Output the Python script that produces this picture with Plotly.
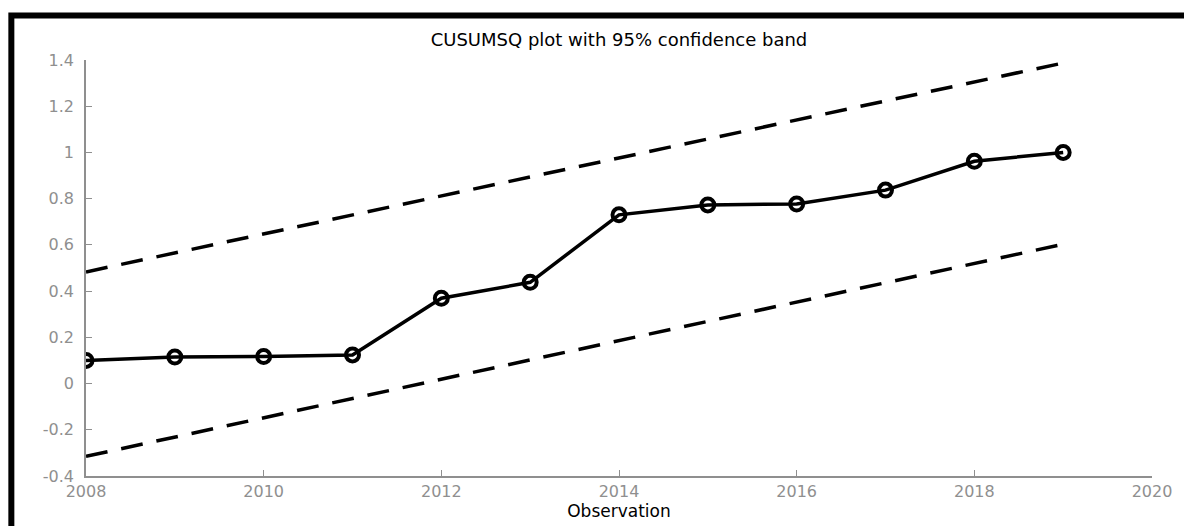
import plotly.graph_objects as go

years = [2008, 2009, 2010, 2011, 2012, 2013, 2014, 2015, 2016, 2017, 2018, 2019]
cusumsq = [0.10, 0.115, 0.117, 0.124, 0.369, 0.438, 0.73, 0.773, 0.777, 0.837, 0.962, 1.0]
band_years = [2008, 2019]
upper_band = [0.483, 1.387]
lower_band = [-0.315, 0.603]

y_ticks = [-0.4, -0.2, 0, 0.2, 0.4, 0.6, 0.8, 1.0, 1.2, 1.4]
y_tick_text = ["-0.4", "-0.2", "0", "0.2", "0.4", "0.6", "0.8", "1", "1.2", "1.4"]
x_ticks = [2008, 2010, 2012, 2014, 2016, 2018, 2020]
x_tick_text = ["2008", "2010", "2012", "2014", "2016", "2018", "2020"]

FONT = "DejaVu Sans, Verdana, sans-serif"
AXIS_GREY = "#8f8f8f"

fig = go.Figure()
fig.add_trace(go.Scatter(x=band_years, y=upper_band, mode="lines",
                         line=dict(color="black", width=3.5, dash="22px,14px"),
                         showlegend=False, hoverinfo="skip"))
fig.add_trace(go.Scatter(x=band_years, y=lower_band, mode="lines",
                         line=dict(color="black", width=3.5, dash="22px,14px"),
                         showlegend=False, hoverinfo="skip"))
fig.add_trace(go.Scatter(x=years, y=cusumsq, mode="lines+markers",
                         line=dict(color="black", width=3.5),
                         marker=dict(symbol="circle-open", size=13, color="black",
                                     line=dict(color="black", width=4)),
                         showlegend=False))

fig.update_layout(
    width=1184, height=526,
    margin=dict(l=86, r=27, t=60, b=46),
    paper_bgcolor="white", plot_bgcolor="white",
    font=dict(family=FONT, size=16, color=AXIS_GREY),
    title=dict(text="CUSUMSQ plot with 95% confidence band", x=0.5, xanchor="center",
               xref="paper", y=1 - 40 / 526, yanchor="middle", yref="container",
               font=dict(family=FONT, size=18, color="black")),
    xaxis=dict(range=[2008, 2020], tickvals=x_ticks, ticktext=x_tick_text,
               showgrid=False, zeroline=False, showline=True, linecolor=AXIS_GREY,
               linewidth=1.5, ticks="inside", ticklen=6, tickcolor=AXIS_GREY,
               tickfont=dict(family=FONT, size=16, color=AXIS_GREY),
               title=dict(text="Observation", standoff=1,
                          font=dict(family=FONT, size=17, color="black"))),
    yaxis=dict(range=[-0.4, 1.4], tickvals=y_ticks, ticktext=y_tick_text,
               showgrid=False, zeroline=False, showline=True, linecolor=AXIS_GREY,
               linewidth=1.5, ticks="inside", ticklen=6, tickcolor=AXIS_GREY,
               ticklabelstandoff=7,
               tickfont=dict(family=FONT, size=16, color=AXIS_GREY)),
    shapes=[dict(type="rect", xref="paper", yref="paper",
                 x0=(11 - 86) / 1071, x1=(1210 - 86) / 1071,
                 y0=(480 - 560) / 420, y1=(480 - 15) / 420,
                 line=dict(color="black", width=6), fillcolor="rgba(0,0,0,0)",
                 layer="above")],
)

fig.write_html("out.html")
